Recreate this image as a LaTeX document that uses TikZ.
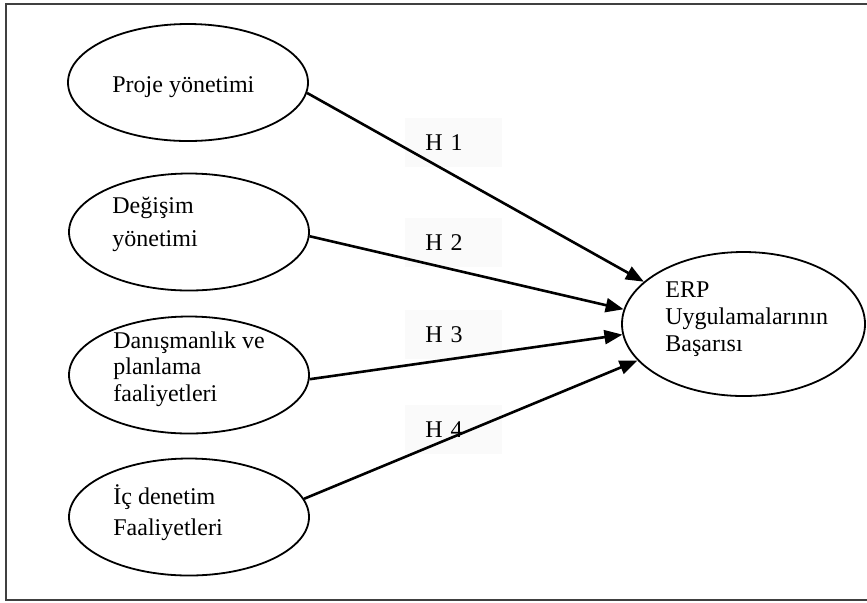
\documentclass[tikz,border=0pt]{standalone}
\usepackage{fontspec}
\setmainfont{Liberation Serif}
\usetikzlibrary{shapes.geometric,arrows.meta}
\begin{document}
\begin{tikzpicture}[x=0.5pt,y=-0.5pt,
	oval/.style={ellipse,draw,line width=0.9pt,inner sep=0pt,minimum width=120pt,minimum height=58.5pt},
	txt/.style={anchor=north west,inner sep=0pt,align=left,font=\fontsize{12}{#1}\selectfont},
	txt/.default=14,
	hyp/.style={anchor=north west,fill=black!2,inner xsep=10pt,inner ysep=0pt,text width=28.5pt,minimum height=24.5pt,font=\fontsize{12}{14}\selectfont},
	link/.style={line width=1.3pt,-{Triangle[length=9pt,width=7pt]}}]
			\useasboundingbox (0,0) rectangle (867,602);
			\draw[black!75,line width=0.8pt] (6,4) rectangle (869,600);
			
			\node[oval] (proj)  at (188,82.5) {};
			\node[oval] (chg)   at (189,232)  {};
			\node[oval] (cons)  at (189,375)  {};
			\node[oval] (audit) at (189,517)  {};
			\node[oval,minimum width=121.5pt,minimum height=72pt] (erp) at (743.5,324) {};
			
			\node[txt]       (projt)  at (112,76)  {Proje yönetimi};
			\node[txt=16.5]  (chgt)   at (112,197) {Değişim\\yönetimi};
			\node[txt=13.25] (const)  at (113,331) {Danışmanlık ve\\planlama\\faaliyetleri};
			\node[txt=15.5]  (auditt) at (113,484) {İç denetim\\Faaliyetleri};
			\node[txt=13.5]  (erpt)   at (665,281) {ERP\\Uygulamalarının\\Başarısı};
			
			\node[hyp] (h1) at (405,118) {H 1};
			\node[hyp] (h2) at (405,218) {H 2};
			\node[hyp] (h3) at (405,310) {H 3};
			\node[hyp] (h4) at (405,405) {H 4};
			
			\draw[link] (proj.-5)    -- (erp.157.8);
			\draw[link] (chg.-2.4)   -- (erp.173.4);
			\draw[link] (cons.-2.4)  -- (erp.-175.8);
			\draw[link] (audit.9)    -- (erp.-161.3);
		\end{tikzpicture}
\end{document}
